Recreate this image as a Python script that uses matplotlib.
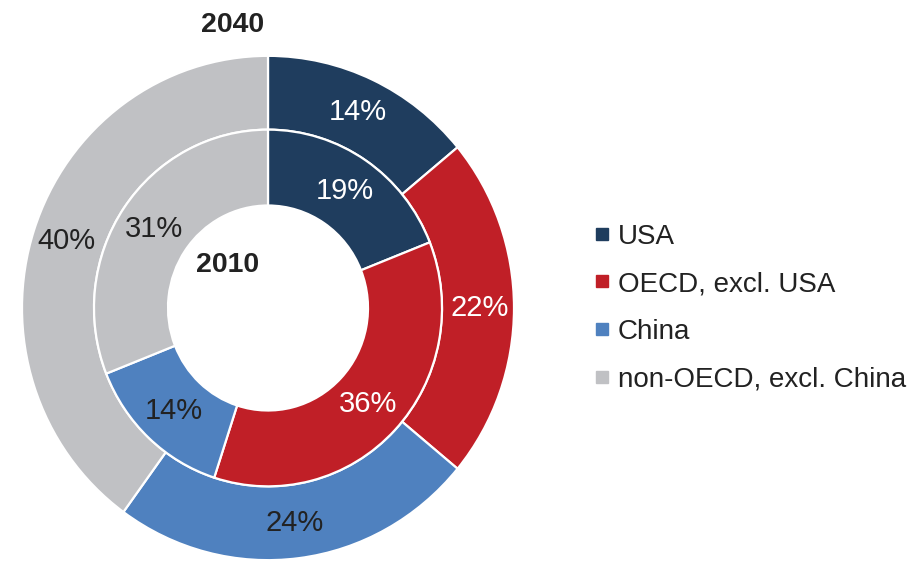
import matplotlib.pyplot as plt
from matplotlib.lines import Line2D

plt.rcParams['font.family'] = ['Liberation Sans', 'DejaVu Sans']

regions = ['USA', 'OECD, excl. USA', 'China', 'non-OECD, excl. China']
share_2040 = [14, 22, 24, 40]
share_2010 = [19, 36, 14, 31]
colors = ['#1f3d5e', '#c01f27', '#4f81bf', '#c0c1c4']
text_colors = ['white', 'white', '#222222', '#222222']

W, H = 921, 561
fig = plt.figure(figsize=(W / 100, H / 100), dpi=100)
ax = fig.add_axes([0, 0, 1, 1])
# slightly taller than wide, like the reference
sy = 1.025

cx, cy = 268, (H - 308) / sy
r_out, r_mid, r_in = 246, 174, 100

wedge = dict(edgecolor='white', linewidth=1.6)
w1, t1, a1 = ax.pie(share_2040, radius=r_out, center=(cx, cy), colors=colors,
                    startangle=90, counterclock=False, autopct='%d%%',
                    pctdistance=0.86, wedgeprops=dict(width=r_out - r_mid, **wedge),
                    textprops=dict(fontsize=21), frame=True)
w2, t2, a2 = ax.pie(share_2010, radius=r_mid, center=(cx, cy), colors=colors,
                    startangle=90, counterclock=False, autopct='%d%%',
                    pctdistance=0.79, wedgeprops=dict(width=r_mid - r_in, **wedge),
                    textprops=dict(fontsize=21), frame=True)
for lst in (a1, a2):
    for t, c in zip(lst, text_colors):
        t.set_color(c)
ax.set_xlim(0, W)
ax.set_ylim(0, H / sy)
ax.set_aspect('auto')
ax.axis('off')

fig.text(233 / W, 1 - 25 / H, '2040', fontsize=20.5, fontweight='bold',
         ha='center', va='center', color='#222222')
fig.text(228 / W, 1 - 265 / H, '2010', fontsize=20.5, fontweight='bold',
         ha='center', va='center', color='#222222')

handles = [Line2D([], [], marker='s', linestyle='none', markersize=8,
                  markerfacecolor=c, markeredgecolor=c) for c in colors]
leg = fig.legend(handles, regions, loc='center left',
                 bbox_to_anchor=(583 / W, 1 - 308 / H), frameon=False,
                 fontsize=20, handlelength=0.55, handletextpad=0.3,
                 labelspacing=0.78, borderaxespad=0)
for t in leg.get_texts():
    t.set_color('#222222')

fig.savefig('out.png', dpi=100)
